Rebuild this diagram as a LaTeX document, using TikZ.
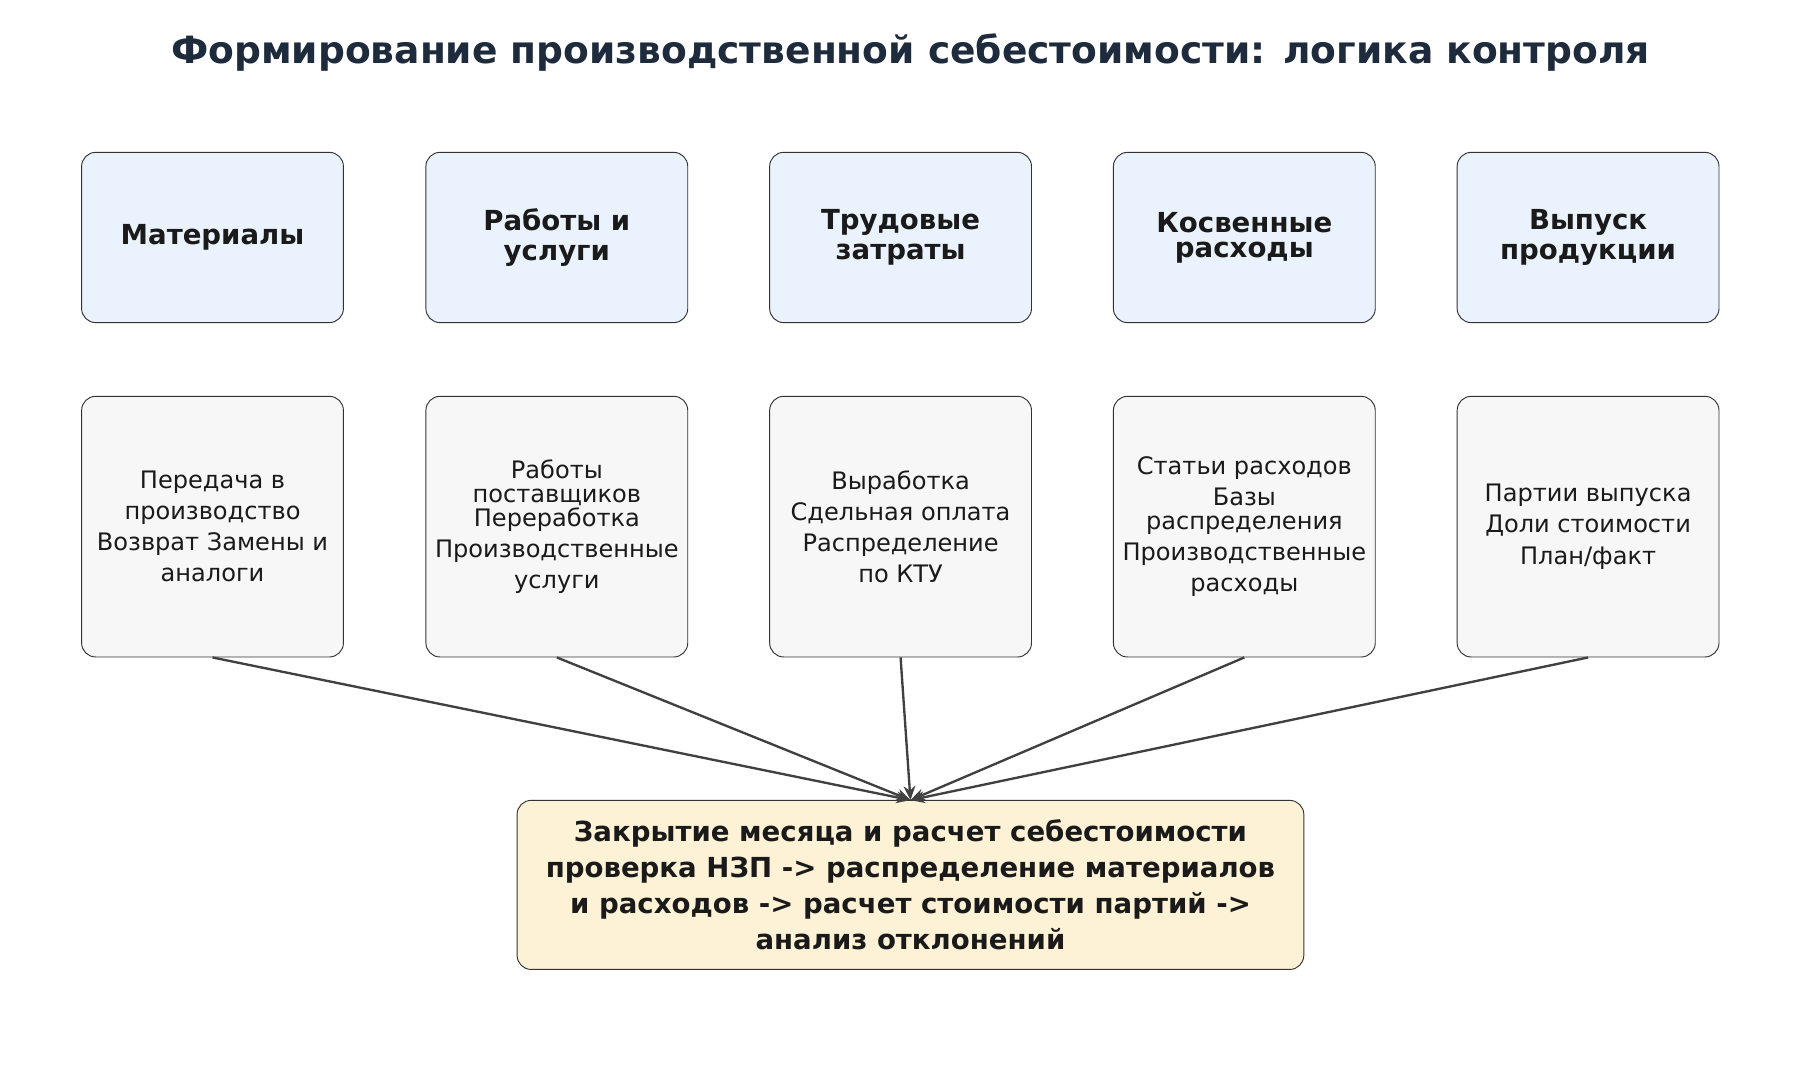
\documentclass[tikz,border=0pt]{standalone}
\usepackage{fontspec}
\usetikzlibrary{arrows.meta}
\setmainfont{DejaVu Sans}
\definecolor{titlec}{HTML}{1E2B3C}
\definecolor{topf}{HTML}{EAF3FD}
\definecolor{midf}{HTML}{F7F7F7}
\definecolor{botf}{HTML}{FDF2D6}
\definecolor{txt}{HTML}{1A1A1A}
\begin{document}
\begin{tikzpicture}[x=0.989pt,y=-0.989pt,
  box/.style={draw=black!80,line width=0.8pt,rounded corners=12pt,minimum width=223pt,align=center,inner sep=3pt,text=txt},
  topbox/.style={box,fill=topf,minimum height=145pt,font=\bfseries\fontsize{23.5}{26}\selectfont},
  midbox/.style={box,fill=midf,minimum height=222pt,font=\fontsize{20.5}{26.5}\selectfont},
  conn/.style={draw=black!75,line width=2pt,-{Stealth[length=12pt,width=10pt]}}]
\path[use as bounding box] (0,0) rectangle (1550,930);
\node[font=\bfseries\fontsize{32}{36}\selectfont,text=titlec] (title) at (784,45) {Формирование производственной себестоимости: логика контроля};
\foreach \i/\x/\t/\b in {
 1/183/{Материалы}/{Передача в\\производство\\Возврат Замены и\\аналоги},
 2/479.5/{Работы и\\услуги}/{Работы\\[-6pt]поставщиков\\[-6pt]Переработка\\Производственные\\услуги},
 3/775.5/{Трудовые\\затраты}/{Выработка\\Сдельная оплата\\Распределение\\по КТУ},
 4/1071.5/{Косвенные\\[-5pt]расходы}/{Статьи расходов\\Базы\\[-6pt]распределения\\Производственные\\расходы},
 5/1367.5/{Выпуск\\продукции}/{Партии выпуска\\Доли стоимости\\План/факт}}{
 \node[topbox] (t\i) at (\x,204.5) {\t};
 \node[midbox] (m\i) at (\x,453.5) {\b};
}
\node[box,fill=botf,minimum width=670pt,minimum height=144pt,font=\bfseries\fontsize{23.5}{30.5}\selectfont] (close) at (784,762) {Закрытие месяца и расчет себестоимости\\проверка НЗП -> распределение материалов\\и расходов -> расчет стоимости партий ->\\анализ отклонений};
\coordinate (tgt) at (784,689);
\foreach \i in {1,...,5}{\draw[conn] (m\i.south) -- (tgt);}
\end{tikzpicture}
\end{document}
